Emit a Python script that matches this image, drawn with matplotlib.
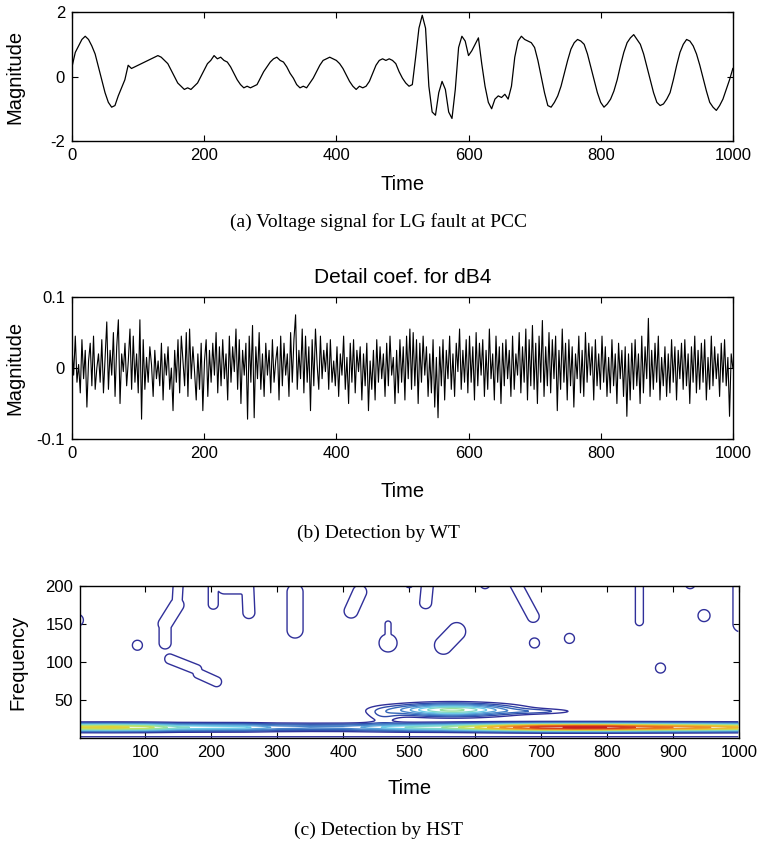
import numpy as np
import matplotlib
matplotlib.use("Agg")
import matplotlib.pyplot as plt
from matplotlib.colors import LinearSegmentedColormap, Normalize

# (a) voltage signal, read every 5 samples
volt_t = np.arange(0, 1001, 5)
volt = [0.3, 0.75, 0.95, 1.15, 1.25, 1.15, 0.95, 0.7, 0.3, -0.1,
        -0.5, -0.8, -0.95, -0.9, -0.6, -0.35, -0.1, 0.35, 0.25, 0.3,
        0.35, 0.4, 0.45, 0.5, 0.55, 0.6, 0.65, 0.6, 0.5, 0.4,
        0.2, 0.0, -0.2, -0.3, -0.4, -0.35, -0.4, -0.3, -0.2, 0.0,
        0.2, 0.4, 0.5, 0.65, 0.55, 0.6, 0.5, 0.45, 0.3, 0.1,
        -0.1, -0.25, -0.35, -0.3, -0.35, -0.3, -0.25, -0.05, 0.15, 0.3,
        0.45, 0.55, 0.6, 0.5, 0.45, 0.3, 0.1, -0.05, -0.25, -0.35,
        -0.3, -0.35, -0.2, -0.05, 0.15, 0.35, 0.5, 0.55, 0.6, 0.55,
        0.5, 0.4, 0.25, 0.05, -0.15, -0.3, -0.4, -0.3, -0.35, -0.3,
        -0.15, 0.1, 0.35, 0.5, 0.55, 0.5, 0.55, 0.5, 0.4, 0.15,
        -0.05, -0.2, -0.3, -0.25, 0.6, 1.5, 1.9, 1.5, -0.3, -1.1,
        -1.2, -0.5, -0.15, -0.4, -1.1, -1.3, -0.4, 0.9, 1.25, 1.1,
        0.65, 0.8, 1.0, 1.2, 0.4, -0.3, -0.8, -1.0, -0.7, -0.6,
        -0.65, -0.55, -0.7, -0.3, 0.6, 1.1, 1.25, 1.15, 1.1, 1.05,
        0.9, 0.5, 0.0, -0.5, -0.9, -0.95, -0.8, -0.6, -0.3, 0.1,
        0.5, 0.85, 1.05, 1.15, 1.1, 1.0, 0.7, 0.3, -0.1, -0.5,
        -0.8, -0.95, -0.85, -0.7, -0.45, -0.1, 0.35, 0.75, 1.05, 1.2,
        1.3, 1.15, 1.0, 0.7, 0.3, -0.1, -0.5, -0.8, -0.9, -0.85,
        -0.7, -0.5, -0.1, 0.35, 0.75, 1.0, 1.15, 1.1, 0.95, 0.7,
        0.35, -0.05, -0.45, -0.8, -0.95, -1.05, -0.9, -0.7, -0.4, -0.1,
        0.25]

# (b) detail coefficients (x 1e-3)
detail_milli = [
    30, -10, 45, -20, 5, -35, 40, -15, 25, -55, 10, 35, -25, 45, -30, 0, 20, -20, 40, -35,
    15, 65, -30, 25, -10, 50, -40, 30, 68, -50, 20, -5, 35, -25, 10, 55, -30, 45, -20, 20,
    -35, 68, -72, 40, -30, 15, -20, 30, 5, -40, 25, -15, 10, -25, 35, -45, 20, -10, 30, -30,
    0, -60, 25, -20, 40, -35, 45, 10, -25, 50, -40, 55, -15, 30, -5, -45, 20, -30, 35, -60,
    10, 40, -40, 25, -20, 35, -10, 50, -35, 30, -25, 40, -15, 20, -45, 45, -20, 30, -5, 55,
    -30, 40, -50, 25, -10, 35, -72, 45, -20, 60, -70, 30, -15, 50, -30, 20, -40, 35, -10, 25,
    -35, 40, -20, 10, 30, -45, 45, -25, 35, -10, 20, -40, 50, -20, 40, 75, -30, 25, -15, 55,
    -35, 45, -20, 30, -60, 40, -25, 55, 5, -30, 45, -15, 25, -5, 35, -30, 40, -20, 10, -25,
    30, -40, 20, -10, 45, -30, 15, -50, 35, -20, 40, -35, 25, -5, 30, -45, 20, -25, 35, -60,
    10, -30, 25, -45, 40, -20, 30, -15, 20, -40, 35, -25, 45, -10, 15, -50, 25, -35, 40, -20,
    30, -45, 45, -15, 55, -30, 50, -25, 40, -50, 35, -20, 45, -10, 30, -40, 20, -35, 40, -55,
    15, -70, 30, -25, 40, -45, 25, -15, 45, -30, 20, -40, 35, -5, 55, -30, 25, -20, 40, -35,
    45, -20, 30, -45, 50, -25, 35, -10, 40, -40, 25, -30, 55, -15, 20, -45, 45, -20, 30, -50,
    35, -25, 40, -15, 25, -40, 45, -30, 20, -10, 50, -35, 30, -20, 55, -45, 40, -25, 60, -30,
    35, -50, 45, -20, 67, -40, 30, -25, 50, -35, 40, -15, 45, -60, 25, -30, 55, -20, 35, -45,
    40, -25, 30, -55, 20, -15, 45, -35, 25, -40, 50, -20, 35, -10, 30, -45, 40, -25, 20, -30,
    45, -20, 30, -40, 15, -35, 40, -25, 20, -50, 35, -15, 25, -40, 30, -68, 20, -45, 35, -30,
    40, -25, 20, -50, 45, -35, 30, -15, 70, -40, 25, -30, 35, -20, 45, -45, 15, -25, 30, -40,
    20, -35, 40, -20, 30, -45, 25, -15, 35, -30, 40, -25, 20, -50, 30, -20, 45, -35, 25, -30,
    35, -20, 40, -45, 15, -30, 45, -25, 30, -15, 20, -40, 35, -20, 40, -25, 15, -68, 20, 0]

# (c) HST: low-frequency band strength along time
band_t = [0, 50, 100, 150, 200, 250, 300, 350, 400, 450, 500,
          550, 600, 650, 700, 750, 800, 850, 900, 950, 1000]
band_amp = [0.62, 0.64, 0.6, 0.45, 0.42, 0.4, 0.3, 0.27, 0.28, 0.35, 0.45,
            0.5, 0.62, 0.78, 0.9, 0.93, 0.92, 0.85, 0.8, 0.75, 0.68]
band_f = 14
# fault event around t=570
event_t = [565, 700, 460]
event_f = [37, 35, 28]
event_wt = [90, 55, 25]
event_wf = [8, 3.5, 10]
event_amp = [0.52, 0.12, 0.1]
# small isolated contours (segments from (t0,f0) to (t1,f1), half width in px)
feat_t0 = [-3, 88, 150, 148, 130, 137, 180, 203, 220, 255, 327, 425, 500, 468, 468,
           528, 552, 615, 660, 690, 743, 849, 881, 926, 947, 1003]
feat_f0 = [155, 122, 205, 175, 150, 104, 85, 205, 200, 205, 192, 192, 203, 150, 125,
           205, 122, 203, 205, 125, 131, 205, 92, 203, 161, 200]
feat_t1 = [-3, 88, 148, 130, 130, 178, 208, 203, 245, 257, 327, 412, 500, 468, 468,
           525, 572, 615, 688, 690, 743, 849, 881, 926, 947, 1003]
feat_f1 = [155, 122, 175, 150, 125, 90, 74, 176, 200, 165, 142, 167, 203, 135, 125,
           178, 140, 203, 160, 125, 131, 153, 92, 203, 161, 150]
feat_w = [6, 5, 5, 7, 6, 5, 5, 5, 8, 6, 8, 7, 4, 3, 9,
          6, 9, 5, 6, 5, 5, 4, 5, 5, 6, 8]

levels = np.arange(0.08, 0.95, 0.06)
hst_colors = ['#30309a', '#2f5fb5', '#4f90d0', '#6fd0e8', '#90e0a8',
              '#d8e040', '#f0b030', '#e87020', '#c82020']
hst_cmap = LinearSegmentedColormap.from_list('hst', hst_colors)

# build the time-frequency field
tt, ff = np.meshgrid(np.arange(1, 1001, 2), np.arange(0, 201, 0.5))
Z = np.interp(tt, band_t, band_amp) * np.exp(-((ff - band_f) / 5.0) ** 2)
Z += 0.12 * np.exp(-(ff / 2.5) ** 2)
for a, b, wt, wf, amp in zip(event_t, event_f, event_wt, event_wf, event_amp):
    Z += amp * np.exp(-((tt - a) / wt) ** 2 - ((ff - b) / wf) ** 2)
px_t, px_f = 0.659, 0.76
feat = np.zeros_like(Z)
for t0, f0, t1, f1, w in zip(feat_t0, feat_f0, feat_t1, feat_f1, feat_w):
    ux, uy = (t1 - t0) * px_t, (f1 - f0) * px_f
    px, py = (tt - t0) * px_t, (ff - f0) * px_f
    L2 = ux * ux + uy * uy
    s = np.clip((px * ux + py * uy) / L2, 0, 1) if L2 > 0 else 0
    d2 = (px - s * ux) ** 2 + (py - s * uy) ** 2
    g = w / np.sqrt(np.log(0.12 / 0.08))
    feat = np.maximum(feat, 0.12 * np.exp(-d2 / g ** 2))
Z = np.maximum(Z, feat)

plt.rcParams['font.family'] = ['Liberation Sans', 'DejaVu Sans']
plt.rcParams['axes.unicode_minus'] = False
fig = plt.figure(figsize=(7.57, 8.43), dpi=100)
LBL = 14.5

def style(ax):
    ax.tick_params(direction='in', top=True, right=True, labelsize=12, length=4, pad=5)
    for s in ax.spines.values():
        s.set_linewidth(1.0)

# panel a
ax1 = fig.add_axes([0.0951, 0.8327, 0.873, 0.153])
ax1.plot(volt_t, volt, color='black', lw=0.9)
ax1.set_xlim(0, 1000)
ax1.set_ylim(-2, 2)
ax1.set_xticks(range(0, 1001, 200))
ax1.set_yticks([-2, 0, 2])
ax1.set_xlabel('Time', fontsize=LBL, labelpad=9)
ax1.set_ylabel('Magnitude', fontsize=LBL)
ax1.yaxis.set_label_coords(-0.072, 0.5)
style(ax1)
fig.text(0.5, 1 - 222 / 843, '(a) Voltage signal for LG fault at PCC',
         ha='center', va='center', family='Liberation Serif', fontsize=14)

# panel b
ax2 = fig.add_axes([0.0951, 0.4792, 0.873, 0.1684])
det_x = np.linspace(0, 1000, len(detail_milli))
ax2.plot(det_x, np.array(detail_milli) / 1000, color='black', lw=0.8)
ax2.set_xlim(0, 1000)
ax2.set_ylim(-0.1, 0.1)
ax2.set_xticks(range(0, 1001, 200))
ax2.set_yticks([-0.1, 0, 0.1])
ax2.set_yticklabels(['-0.1', '0', '0.1'])
ax2.set_xlabel('Time', fontsize=LBL, labelpad=15)
ax2.set_ylabel('Magnitude', fontsize=LBL)
ax2.yaxis.set_label_coords(-0.072, 0.5)
ax2.set_title('Detail coef. for dB4', fontsize=15, pad=10)
style(ax2)
fig.text(0.5, 1 - 533 / 843, '(b) Detection by WT',
         ha='center', va='center', family='Liberation Serif', fontsize=14)

# panel c
ax3 = fig.add_axes([0.1057, 0.1246, 0.8705, 0.1803])
ax3.contour(tt, ff, Z, levels=levels, cmap=hst_cmap,
            norm=Normalize(0.08, 0.9), linewidths=1.0)
ax3.set_xlim(1, 1000)
ax3.set_ylim(0, 200)
ax3.set_xticks(range(100, 1001, 100))
ax3.set_yticks([50, 100, 150, 200])
ax3.set_xlabel('Time', fontsize=LBL, labelpad=14)
ax3.set_ylabel('Frequency', fontsize=LBL)
ax3.yaxis.set_label_coords(-0.08, 0.5)
style(ax3)
fig.text(0.5, 1 - 830 / 843, '(c) Detection by HST',
         ha='center', va='center', family='Liberation Serif', fontsize=14)

fig.savefig('out.png', dpi=100)
